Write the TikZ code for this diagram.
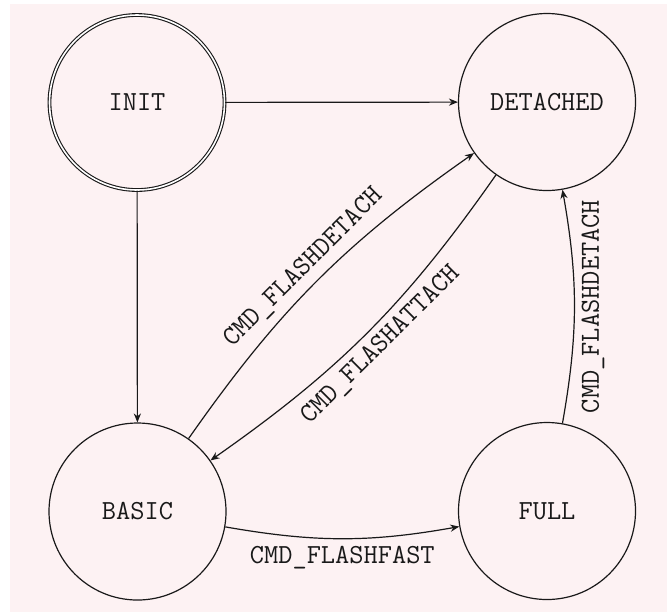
\documentclass[tikz,border=0pt]{standalone}
\usetikzlibrary{arrows.meta}
\definecolor{bgpink}{RGB}{253,242,243}
\definecolor{ink}{RGB}{25,25,25}
\tikzset{
  state/.style={circle, draw=ink, line width=0.6pt, minimum size=88.5pt, inner sep=0pt,
    font=\fontsize{13.8}{16}\selectfont\ttfamily, text=ink},
  initstate/.style={state, double, double distance=0.8pt, minimum size=87.5pt, line width=0.55pt},
  edge/.style={draw=ink, line width=0.6pt, -{Stealth[length=4.5pt,width=3.6pt]}},
  lab/.style={font=\fontsize{13.8}{16}\selectfont\ttfamily, text=ink}
}
\begin{document}
\begin{tikzpicture}[x=0.5pt,y=-0.5pt]
  \fill[white] (0,0) rectangle (667,612);
  \fill[bgpink] (10,4) rectangle (667,612);
  \useasboundingbox (0,0) rectangle (667,612);
  \node[initstate] (init) at (137,102.5) {INIT};
  \node[state] (det) at (547,102) {DETACHED};
  \node[state] (basic) at (137.5,511.5) {BASIC};
  \node[state] (full) at (547,511) {FULL};
  \draw[edge] (init) -- (det);
  \draw[edge] (init) -- (basic);
  \draw[edge] (basic) to[bend left=10] node[lab, sloped, above] {CMD\_FLASHDETACH} (det);
  \draw[edge] (det) to[bend left=10] node[lab, sloped, below] {CMD\_FLASHATTACH} (basic);
  \draw[edge] (basic) to[bend right=10] node[lab, below] {CMD\_FLASHFAST} (full);
  \draw[edge] (full) to[bend right=10] node[lab, sloped, below] {CMD\_FLASHDETACH} (det);
\end{tikzpicture}
\end{document}
